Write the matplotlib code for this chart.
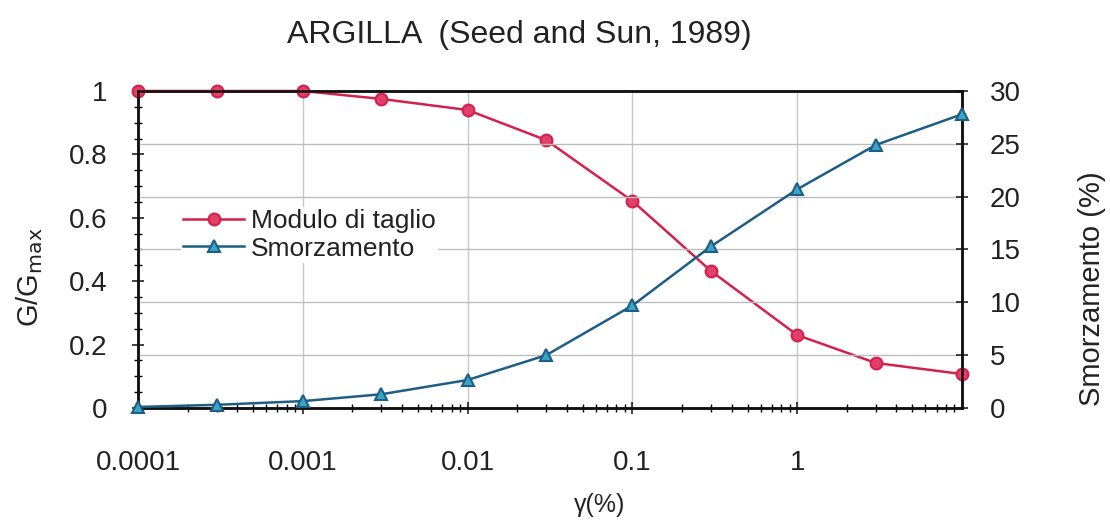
import matplotlib
matplotlib.use("Agg")
import matplotlib.pyplot as plt
from matplotlib.ticker import MultipleLocator, LogLocator, NullFormatter

plt.rcParams['font.family'] = ['Liberation Sans', 'DejaVu Sans']

strain = [0.0001, 0.0003, 0.001, 0.003, 0.01, 0.03, 0.1, 0.3, 1, 3, 10]
g_ratio = [1.0, 1.0, 1.0, 0.975, 0.94, 0.845, 0.653, 0.432, 0.23, 0.142, 0.107]
damping = [0.1, 0.3, 0.65, 1.3, 2.65, 5.0, 9.7, 15.3, 20.7, 24.9, 27.8]

x_ticks = [0.0001, 0.001, 0.01, 0.1, 1]
x_ticklabels = ['0.0001', '0.001', '0.01', '0.1', '1']
left_ticks = [0, 0.2, 0.4, 0.6, 0.8, 1]
left_ticklabels = ['0', '0.2', '0.4', '0.6', '0.8', '1']
right_ticks = [0, 5, 10, 15, 20, 25, 30]

red = '#d3214c'
blue = '#1d5d86'
txt = '#222222'

fig = plt.figure(figsize=(11.1, 5.2), dpi=100)
ax = fig.add_axes([0.1243, 0.2154, 0.7424, 0.6096])
ax2 = ax.twinx()

ax.set_xscale('log')
ax.set_xlim(0.0001, 10)
ax.set_ylim(0, 1)
ax2.set_ylim(0, 30)

for v in right_ticks[1:-1]:
    ax2.axhline(v, color='#bdbdbd', lw=1.0, zorder=0)
for xv in [0.001, 0.01, 0.1, 1]:
    ax.axvline(xv, color='#c8c8c8', lw=1.0, zorder=0)

l1, = ax.plot(strain, g_ratio, color=red, lw=1.8, marker='o', ms=8.5,
              mfc='#e0406b', mec=red, mew=1.5, label='Modulo di taglio', zorder=3, clip_on=False)
l2, = ax2.plot(strain, damping, color=blue, lw=1.8, marker='^', ms=9,
               mfc='#3aa6c4', mec=blue, mew=1.5, label='Smorzamento', zorder=3, clip_on=False)

ax.set_xticks(x_ticks)
ax.set_xticklabels(x_ticklabels)
ax.xaxis.set_minor_locator(LogLocator(base=10, subs=range(2, 10), numticks=20))
ax.xaxis.set_minor_formatter(NullFormatter())
ax.set_yticks(left_ticks)
ax.set_yticklabels(left_ticklabels)
ax.yaxis.set_minor_locator(MultipleLocator(0.05))
ax2.set_yticks(right_ticks)

ax.tick_params(axis='x', which='major', direction='inout', length=9, width=1.2, labelsize=20, pad=26, colors=txt)
ax.tick_params(axis='x', which='minor', direction='inout', length=6, width=1.0)
ax.tick_params(axis='y', which='major', direction='inout', length=8, width=1.2, labelsize=20, pad=18, colors=txt)
ax.tick_params(axis='y', which='minor', direction='inout', length=6, width=1.0)
ax2.tick_params(axis='y', which='major', direction='inout', length=8, width=1.2, labelsize=20, pad=16, colors=txt)

for a in (ax, ax2):
    for s in a.spines.values():
        s.set_linewidth(1.8)
        s.set_color('#111111')

ax.set_xlabel('γ(%)', fontsize=18, color=txt)
ax.xaxis.label.set_va('center')
ax.xaxis.set_label_coords(0.56, -0.306)

ax.set_ylabel('G/G$_{\\mathrm{max}}$', fontsize=21, color=txt)
ax.yaxis.label.set_va('center')
ax.yaxis.set_label_coords(-0.131, 0.413)

ax2.set_ylabel('Smorzamento (%)', fontsize=21, color=txt)
ax2.yaxis.label.set_va('center')
ax2.yaxis.set_label_coords(1.158, 0.375)

fig.text(0.468, 0.932, 'ARGILLA  (Seed and Sun, 1989)', ha='center', va='center',
         fontsize=23, color=txt)

leg = ax2.legend(handles=[l1, l2], loc='upper left', bbox_to_anchor=(0.052, 0.635),
                 frameon=True, facecolor='white', edgecolor='none', framealpha=1.0,
                 fontsize=19, handlelength=2.3, handletextpad=0.25, borderpad=0.1,
                 labelspacing=0.12, borderaxespad=0)
leg.set_zorder(5)
for t in leg.get_texts():
    t.set_color(txt)

fig.savefig('out.png', dpi=100)
